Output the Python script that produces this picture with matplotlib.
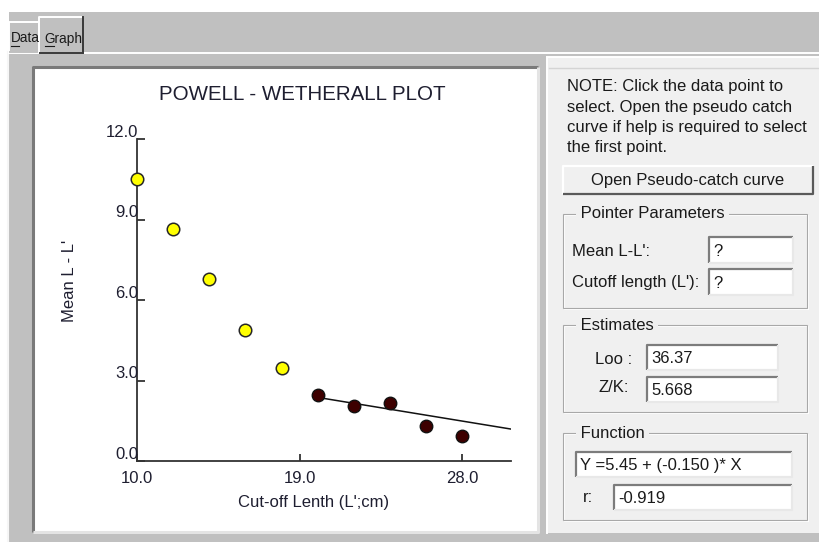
import matplotlib
matplotlib.use('Agg')
import matplotlib.pyplot as plt
from matplotlib.patches import Rectangle

# values
cutoff_len = [10.0, 12.0, 14.0, 16.0, 18.0, 20.0, 22.0, 24.0, 26.0, 28.0]
mean_diff = [10.5, 8.65, 6.8, 4.9, 3.45, 2.45, 2.05, 2.15, 1.3, 0.95]
n_skip = 5  # first points (yellow) are left out of the fit
fit_x = [20.0, 30.7]
fit_y = [2.37, 1.19]
x_ticks = [10.0, 19.0, 28.0]
y_ticks = [0.0, 3.0, 6.0, 9.0, 12.0]

title = 'POWELL - WETHERALL PLOT'
x_label = "Cut-off Lenth (L';cm)"
y_label = "Mean L - L'"

note_lines = ['NOTE: Click the data point to',
              'select. Open the pseudo catch',
              'curve if help is required to select',
              'the first point.']
loo = '36.37'
zk = '5.668'
func_text = 'Y =5.45 + (-0.150 )* X'
r_val = '-0.919'

plt.rcParams['font.family'] = ['Liberation Sans', 'DejaVu Sans']

W, H = 820, 542
fig = plt.figure(figsize=(W / 100, H / 100), dpi=100)
fig.patch.set_facecolor('white')

# full size axes in pixel units for the window chrome
bg = fig.add_axes([0, 0, 1, 1], zorder=0)
bg.set_xlim(0, W)
bg.set_ylim(H, 0)
bg.axis('off')

GRAY = '#c0c0c0'
PANEL = '#f0f0f0'
TXT = '#1a1a1a'
FS = 12  # panel font size


def box(x0, y0, x1, y1, fill, tl, br, lw=1.4):
    bg.add_patch(Rectangle((x0, y0), x1 - x0, y1 - y0, facecolor=fill, edgecolor='none'))
    bg.plot([x0, x0, x1], [y1, y0, y0], color=tl, lw=lw, solid_capstyle='butt')
    bg.plot([x0, x1, x1], [y1, y1, y0], color=br, lw=lw, solid_capstyle='butt')


def group(x0, y0, x1, y1, label):
    bg.add_patch(Rectangle((x0 + 1, y0 + 1), x1 - x0, y1 - y0, facecolor='none',
                           edgecolor='white', lw=0.8))
    bg.add_patch(Rectangle((x0, y0), x1 - x0, y1 - y0, facecolor='none',
                           edgecolor='#a8a8a8', lw=0.8))
    bg.text(x0 + 13, y0, ' ' + label + ' ', fontsize=FS, color=TXT, va='center', ha='left',
            bbox=dict(facecolor=PANEL, edgecolor='none', pad=0))


def textbox(x0, y0, x1, y1, s):
    box(x0, y0, x1, y1, 'white', '#7c7c7c', '#e8e8e8', lw=1.6)
    bg.text(x0 + 4, (y0 + y1) / 2 + 1, s, fontsize=FS, color=TXT, va='center', ha='left')


# window background and tab strip
bg.add_patch(Rectangle((9, 12), W, H, facecolor=GRAY, edgecolor='none'))
bg.plot([8, 8], [52, H], color='#f6f6f6', lw=1.5)
bg.plot([9, 39], [52.5, 52.5], color='white', lw=1.4)
bg.plot([84, W], [52.5, 52.5], color='white', lw=1.4)
box(9, 22, 39, 52, GRAY, 'white', GRAY)
box(39, 17, 83, 53, GRAY, 'white', '#3c3c3c')
bg.plot([83, 83], [17, 53], color='#3c3c3c', lw=1.4)
bg.text(11, 38.5, 'Data', fontsize=9.8, color=TXT, va='center', ha='left')
bg.plot([11.5, 19.5], [46, 46], color=TXT, lw=0.8)
bg.text(44.5, 38.5, 'Graph', fontsize=9.8, color=TXT, va='center', ha='left')
bg.plot([45, 54], [46, 46], color=TXT, lw=0.8)

# plot panel
box(33, 67, 538, 532, 'white', '#7a7a7a', '#e4e4e4', lw=2.2)

# side panel
bg.add_patch(Rectangle((547, 57), W - 547, 476, facecolor=PANEL, edgecolor='none'))
bg.plot([547, W], [57, 57], color='white', lw=1.4)
bg.plot([547, 547], [57, 533], color='white', lw=1.4)
bg.plot([549, W], [67.5, 67.5], color='#d4d4d4', lw=1.0)

for i, line in enumerate(note_lines):
    bg.text(567, 87 + i * 20.3, line, fontsize=FS, color=TXT, va='center', ha='left')

box(563, 166, 813, 194, PANEL, 'white', '#5a5a5a', lw=1.6)
bg.text(688, 180, 'Open Pseudo-catch curve', fontsize=FS, color=TXT, va='center', ha='center')

group(563, 214, 807, 308, 'Pointer Parameters')
bg.text(572, 251, "Mean L-L':", fontsize=FS, color=TXT, va='center', ha='left')
textbox(709, 237, 793, 263, '?')
bg.text(572, 283, "Cutoff length (L'):", fontsize=FS, color=TXT, va='center', ha='left')
textbox(709, 269, 793, 295, '?')

group(563, 325, 807, 412, 'Estimates')
bg.text(632, 359, 'Loo :', fontsize=FS, color=TXT, va='center', ha='right')
textbox(647, 345, 778, 370, loo)
bg.text(629, 388, 'Z/K:', fontsize=FS, color=TXT, va='center', ha='right')
textbox(647, 377, 778, 402, zk)

group(563, 433, 807, 520, 'Function')
textbox(576, 452, 792, 477, func_text)
bg.text(593, 498, 'r:', fontsize=FS, color=TXT, va='center', ha='right')
textbox(614, 485, 792, 510, r_val)

# chart titles in pixel positions
bg.text(302, 95, title, fontsize=14.8, color='#1e1e30', va='center', ha='center')
bg.text(314, 503, x_label, fontsize=12, color='#1e1e30', va='center', ha='center')
bg.text(70, 281, y_label, fontsize=12, color='#1e1e30', va='center', ha='center', rotation=90)

# the plot itself
ax_l, ax_r, ax_t, ax_b = 137, 511, 139, 461
ax = fig.add_axes([ax_l / W, (H - ax_b) / H, (ax_r - ax_l) / W, (ax_b - ax_t) / H], zorder=1)
ax.patch.set_alpha(0)
x_min = 10.0
x_max = 30.7
ax.set_xlim(x_min, x_max)
ax.set_ylim(0, 12)
for s in ['top', 'right']:
    ax.spines[s].set_visible(False)
for s in ['left', 'bottom']:
    ax.spines[s].set_color('#333333')
    ax.spines[s].set_linewidth(1.3)
ax.set_xticks(x_ticks)
ax.set_yticks(y_ticks)
ax.tick_params(axis='both', direction='in', color='#333333', width=1.3, labelleft=False, labelbottom=False)
ax.tick_params(axis='y', length=6)
ax.tick_params(axis='x', length=5)

for v in y_ticks:
    ax.annotate('%.1f' % v, (x_min, v), xytext=(1, 1.5), textcoords='offset points',
                ha='right', va='baseline', fontsize=12, color='#1e1e30', annotation_clip=False)
for v in x_ticks:
    ax.annotate('%.1f' % v, (v, 0), xytext=(0, -7.5), textcoords='offset points',
                ha='center', va='top', fontsize=12, color='#1e1e30', annotation_clip=False)

ax.plot(fit_x, fit_y, color='#111111', lw=1.1, zorder=2)
ax.plot(cutoff_len[:n_skip], mean_diff[:n_skip], 'o', ms=9, mfc='#ffff00', mec='#262626',
        mew=1.1, clip_on=False, zorder=3)
ax.plot(cutoff_len[n_skip:], mean_diff[n_skip:], 'o', ms=9, mfc='#3d0000', mec='#111111',
        mew=1.0, clip_on=False, zorder=3)

fig.savefig('out.png', dpi=100)
